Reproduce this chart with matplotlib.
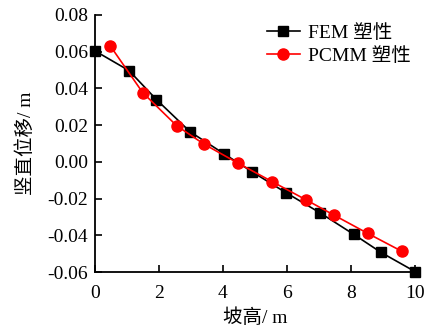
import matplotlib
matplotlib.use('Agg')
import matplotlib.pyplot as plt

plt.rcParams['font.family'] = ['Liberation Serif', 'Noto Sans CJK SC']
plt.rcParams['axes.unicode_minus'] = False

# ---------- data ----------
fem_x = [0.0, 1.06, 1.92, 2.97, 4.04, 4.91, 5.97, 7.03, 8.09, 8.94, 10.0]
fem_y = [0.0604, 0.0497, 0.0339, 0.0164, 0.0043, -0.0054, -0.0168,
         -0.0277, -0.0395, -0.0493, -0.0597]

pcmm_x = [0.47, 1.49, 2.55, 3.41, 4.48, 5.54, 6.61, 7.47, 8.52, 9.58]
pcmm_y = [0.0633, 0.0377, 0.0197, 0.0096, -0.0008, -0.0108, -0.0208,
          -0.0290, -0.0389, -0.0486]

xticks = [0, 2, 4, 6, 8, 10]
yticks = [-0.06, -0.04, -0.02, 0.00, 0.02, 0.04, 0.06, 0.08]

# ---------- plot ----------
fig = plt.figure(figsize=(4.30, 3.31), dpi=100)
ax = fig.add_axes([0.221, 0.178, 0.744, 0.777])

ax.plot(fem_x, fem_y, color='black', marker='s', markersize=6.5,
        linewidth=1.2, label='FEM 塑性', clip_on=False, zorder=3)
ax.plot(pcmm_x, pcmm_y, color='red', marker='o', markersize=8,
        linewidth=1.2, label='PCMM 塑性', clip_on=False, zorder=4)

ax.set_xlim(0, 10)
ax.set_ylim(-0.06, 0.08)
ax.set_xticks(xticks)
ax.set_xticklabels([str(v) for v in xticks])
ax.set_yticks(yticks)
ax.set_yticklabels([f'{v:.2f}' for v in yticks])

for s in ['top', 'right']:
    ax.spines[s].set_visible(False)
for s in ['left', 'bottom']:
    ax.spines[s].set_linewidth(1.3)

ax.tick_params(direction='in', length=5, width=1.2, labelsize=14)
ax.tick_params(axis='x', pad=9)
ax.tick_params(axis='y', pad=5)

ax.set_xlabel('坡高/ m', fontsize=14, labelpad=5)
ax.set_ylabel('竖直位移/ m', fontsize=14, labelpad=9)

ax.legend(loc='upper right', frameon=False, fontsize=14,
          handlelength=1.7, handletextpad=0.4, labelspacing=0.25,
          borderaxespad=0.0, bbox_to_anchor=(1.01, 0.995))

fig.savefig('out.png', dpi=100)
